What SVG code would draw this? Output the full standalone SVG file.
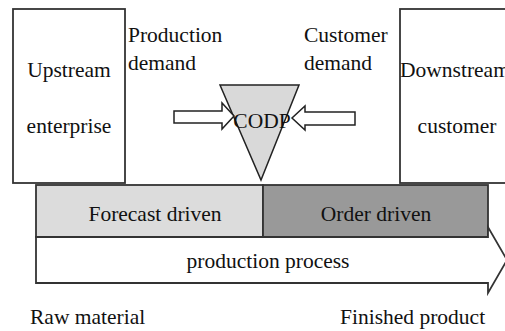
<svg xmlns="http://www.w3.org/2000/svg" width="505" height="331" viewBox="0 0 505 331" font-family="'Liberation Serif', 'DejaVu Serif', serif">
  <style>
    text { font-family: 'Liberation Serif', 'DejaVu Serif', serif; font-size: 21.5px; fill: #111; }
    .box { fill: #fff; stroke: #333; stroke-width: 1.8; }
    .arrow { fill: #fff; stroke: #222; stroke-width: 1.5; }
  </style>
  <rect width="505" height="331" fill="#fff"/>

  <g id="upstream">
    <rect class="box" x="13" y="9" width="112" height="174"/>
    <text x="69" y="77" text-anchor="middle">Upstream</text>
    <text x="69" y="133" text-anchor="middle">enterprise</text>
  </g>

  <g id="downstream">
    <rect class="box" x="400" y="9" width="115" height="174"/>
    <text x="400" y="77">Downstream</text>
    <text x="457" y="133" text-anchor="middle">customer</text>
  </g>

  <g id="production-demand">
    <text x="128" y="42">Production</text>
    <text x="128" y="70">demand</text>
  </g>

  <g id="customer-demand">
    <text x="304" y="42">Customer</text>
    <text x="304" y="70">demand</text>
  </g>

  <g id="forecast">
    <rect x="36" y="185" width="227" height="52" fill="#dcdcdc" stroke="#333" stroke-width="1.8"/>
    <text x="155" y="221" text-anchor="middle">Forecast driven</text>
  </g>

  <g id="order">
    <rect x="263" y="185" width="225" height="52" fill="#999" stroke="#333" stroke-width="1.8"/>
    <text x="376" y="221" text-anchor="middle">Order driven</text>
  </g>

  <g id="process">
    <path d="M36 237 H488 V227 L507 260 L488 293 V283 H36 Z" fill="#fff" stroke="#333" stroke-width="1.8"/>
    <text x="268" y="268" text-anchor="middle">production process</text>
  </g>

  <g id="codp">
    <path d="M220 85 H299 L261 180 Z" fill="#d9d9d9" stroke="#222" stroke-width="1.5"/>
    <text x="262" y="128" text-anchor="middle">CODP</text>
  </g>

  <g id="connectors">
    <path class="arrow" d="M174 111 H222 V103 L234 116 L222 129 V123 H174 Z"/>
    <path class="arrow" d="M355 112 H305 V106 L292 118 L305 130 V125 H355 Z"/>
  </g>

  <g id="ends">
    <text x="30" y="324">Raw material</text>
    <text x="340" y="324">Finished product</text>
  </g>
</svg>
